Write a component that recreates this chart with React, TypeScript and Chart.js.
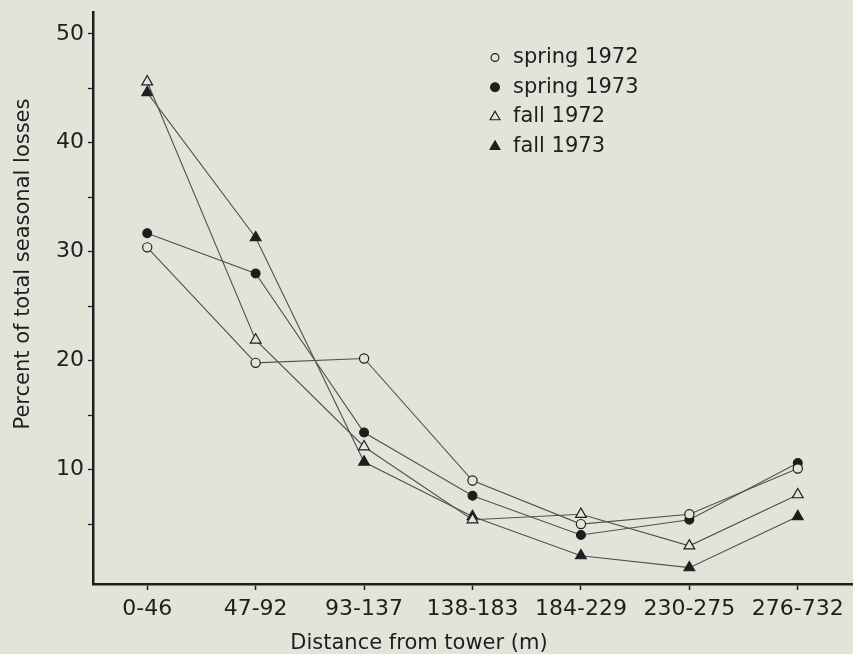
import { useEffect, useRef } from 'react';
import { Chart, registerables } from 'chart.js';

Chart.register(...registerables);

const categories = ['0-46', '47-92', '93-137', '138-183', '184-229', '230-275', '276-732'];
const seriesLabels = ['spring 1972', 'spring 1973', 'fall 1972', 'fall 1973'];
const spring1972 = [30.4, 19.8, 20.2, 9.0, 5.0, 5.9, 10.1];
const spring1973 = [31.7, 28.0, 13.4, 7.6, 4.0, 5.4, 10.6];
const fall1972 = [45.6, 21.9, 12.1, 5.4, 5.9, 3.0, 7.7];
const fall1973 = [44.6, 31.3, 10.7, 5.7, 2.1, 1.0, 5.7];
const yTickValues = [5, 10, 15, 20, 25, 30, 35, 40, 45, 50];
const yLabeledTicks = [10, 20, 30, 40, 50];
const xTitle = 'Distance from tower (m)';
const yTitle = 'Percent of total seasonal losses';

const BG = '#e4e3da';
const INK = '#1e1e1e';
const FONT = '"DejaVu Sans", sans-serif';

const markerStyles = [
  { style: 'circle', filled: false, r: 4.6, lr: 3.9 },
  { style: 'circle', filled: true, r: 4.4, lr: 4.4 },
  { style: 'triangle', filled: false, r: 6.2, lr: 5.7 },
  { style: 'triangle', filled: true, r: 6.2, lr: 5.7 },
];

function drawMarker(ctx: CanvasRenderingContext2D, kind: any, x: number, y: number, r: number) {
  ctx.beginPath();
  if (kind.style === 'circle') {
    ctx.arc(x, y, r, 0, Math.PI * 2);
  } else {
    for (let k = 0; k < 3; k++) {
      const a = (k * 2 * Math.PI) / 3;
      const px = x + Math.sin(a) * r;
      const py = y - Math.cos(a) * r;
      if (k === 0) ctx.moveTo(px, py);
      else ctx.lineTo(px, py);
    }
    ctx.closePath();
  }
  ctx.fillStyle = kind.filled ? INK : BG;
  ctx.fill();
  ctx.lineWidth = 1.2;
  ctx.strokeStyle = INK;
  ctx.stroke();
}

const bgPlugin = {
  id: 'bg',
  beforeDraw(chart: any) {
    const ctx = chart.ctx;
    ctx.save();
    ctx.fillStyle = BG;
    ctx.fillRect(0, 0, chart.width, chart.height);
    ctx.restore();
  },
};

const annotPlugin = {
  id: 'annot',
  afterDraw(chart: any) {
    const ctx: CanvasRenderingContext2D = chart.ctx;
    ctx.save();
    ctx.fillStyle = INK;
    ctx.font = `21px ${FONT}`;
    ctx.textAlign = 'center';
    ctx.textBaseline = 'middle';
    ctx.fillText(xTitle, 419, 644);
    ctx.save();
    ctx.translate(24, 264);
    ctx.rotate(-Math.PI / 2);
    ctx.fillText(yTitle, 0, 0);
    ctx.restore();

    // legend
    chart.data.datasets.forEach((ds: any, i: number) => {
      const y = 57.5 + i * 29.7;
      drawMarker(ctx, markerStyles[i], 495, y, markerStyles[i].lr);
      ctx.fillStyle = INK;
      ctx.font = `21px ${FONT}`;
      ctx.textAlign = 'left';
      ctx.textBaseline = 'middle';
      ctx.fillText(ds.label, 513, y);
    });
    ctx.restore();
  },
};

export default function App() {
  const ref = useRef<HTMLCanvasElement | null>(null);
  useEffect(() => {
    if (!ref.current) return;
    const series = [spring1972, spring1973, fall1972, fall1973];
    const chart = new Chart(ref.current, {
      type: 'line',
      data: {
        labels: categories,
        datasets: series.map((d, i) => ({
          label: seriesLabels[i],
          data: d,
          borderColor: '#505050',
          borderWidth: 1.1,
          pointStyle: markerStyles[i].style as any,
          pointRadius: markerStyles[i].r,
          pointBackgroundColor: markerStyles[i].filled ? INK : BG,
          pointBorderColor: INK,
          pointBorderWidth: 1.2,
          tension: 0,
          fill: false,
        })),
      },
      options: {
        responsive: false,
        animation: false,
        layout: { autoPadding: false, padding: { top: 12, right: 1, left: 0, bottom: 0 } },
        plugins: { legend: { display: false }, tooltip: { enabled: false } },
        scales: {
          x: {
            type: 'category',
            offset: true,
            afterFit: (s: any) => { s.height = 70; s.paddingLeft = 0; s.paddingRight = 0; },
            grid: { display: true, drawOnChartArea: false, tickLength: 6, tickColor: INK, tickWidth: 1.5 },
            border: { display: true, color: INK, width: 2.5 },
            ticks: { color: INK, font: { family: FONT, size: 22 }, padding: 6, maxRotation: 0, autoSkip: false },
          },
          y: {
            type: 'linear',
            min: -0.5,
            max: 52,
            afterFit: (s: any) => { s.width = 93; s.paddingTop = 0; s.paddingBottom = 0; },
            afterBuildTicks: (s: any) => { s.ticks = yTickValues.map((v) => ({ value: v })); },
            grid: { display: true, drawOnChartArea: false, tickLength: 5, tickColor: INK, tickWidth: 1.3 },
            border: { display: true, color: INK, width: 2.5 },
            ticks: {
              color: INK,
              font: { family: FONT, size: 22 },
              padding: 4,
              callback: (v: any) => (yLabeledTicks.includes(Number(v)) ? String(v) : ''),
            },
          },
        },
      },
      plugins: [bgPlugin, annotPlugin],
    });
    return () => chart.destroy();
  }, []);
  return (
    <div style={{ position: 'absolute', left: 0, top: 0, width: 853, height: 654 }}>
      <canvas ref={ref} width={853} height={654} style={{ width: 853, height: 654, display: 'block' }} />
    </div>
  );
}
